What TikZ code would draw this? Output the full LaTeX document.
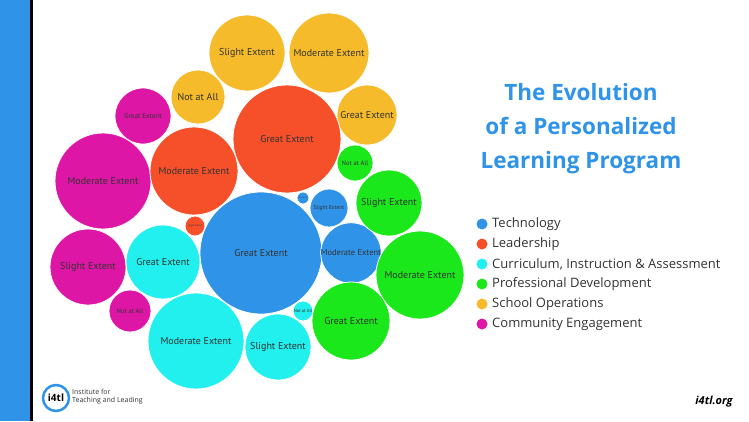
\documentclass[tikz,border=0pt]{standalone}
\usepackage{fontspec}
\setmainfont{Open Sans}
\newfontfamily\bub{PT Sans}
\definecolor{cb}{HTML}{2F93E8}
\definecolor{cr}{HTML}{F5502A}
\definecolor{cc}{HTML}{22F0EE}
\definecolor{cg}{HTML}{1BE81B}
\definecolor{cy}{HTML}{F6BB2B}
\definecolor{cm}{HTML}{DD16A5}
\definecolor{tx}{HTML}{333333}
\begin{document}
\begin{tikzpicture}[x=1pt,y=-1pt,
 bubble/.style={circle,fill=#1,draw=white,line width=0.8pt,inner sep=0pt,text=tx,font=\bub\fontsize{10}{11}\selectfont},
 dot/.style={circle,fill=#1,inner sep=0pt,minimum size=11pt},
 leg/.style={anchor=west,font=\fontsize{13}{15}\selectfont,text=tx,inner sep=0pt}]
\fill[white] (0,0) rectangle (749,421);
\useasboundingbox (0,0) rectangle (749,421);
\fill[cb] (0,0) rectangle (30,421);
\fill[black] (30,0) rectangle (33,421);
\newcommand\bb[6]{\node[bubble=#4,minimum size=#3*2pt] (#5) at (#1,#2) {#6};}
\bb{247}{53}{38}{cy}{y1}{Slight Extent}
\bb{329}{53}{40}{cy}{y2}{Moderate Extent}
\bb{198}{97}{27}{cy}{y3}{Not at All}
\bb{367}{115}{30}{cy}{y4}{Great Extent}
\bb{143}{116}{28}{cm}{m1}{\fontsize{7}{8}\selectfont Great Extent}
\bb{103}{181}{48}{cm}{m2}{Moderate Extent}
\bb{88}{267}{38}{cm}{m3}{Slight Extent}
\bb{130}{311}{21}{cm}{m4}{\fontsize{6.5}{7}\selectfont Not at All}
\bb{287}{139}{54}{cr}{r1}{Great Extent}
\bb{194}{171}{44}{cr}{r2}{Moderate Extent}
\bb{195}{226}{10}{cr}{r3}{\fontsize{2.5}{3}\selectfont Slight Extent}
\bb{261}{253}{61}{cb}{b1}{Great Extent}
\bb{303}{198}{6}{cb}{b2}{\fontsize{2}{2}\selectfont Not at All}
\bb{329}{208}{19}{cb}{b3}{\fontsize{5.5}{6}\selectfont Slight Extent}
\bb{351}{253}{29}{cb}{b4}{\fontsize{8.5}{9}\selectfont Moderate Extent}
\bb{163}{262}{37}{cc}{c1}{Great Extent}
\bb{196}{341}{48}{cc}{c2}{Moderate Extent}
\bb{278}{347}{33}{cc}{c3}{Slight Extent}
\bb{303}{311}{10}{cc}{c4}{\fontsize{4.5}{5}\selectfont Not at All}
\bb{355}{163}{18}{cg}{g1}{\fontsize{6.5}{7}\selectfont Not at All}
\bb{389}{203}{33}{cg}{g2}{Slight Extent}
\bb{420}{275}{44}{cg}{g3}{Moderate Extent}
\bb{351}{321}{39}{cg}{g4}{Great Extent}
\node[text=cb,font=\bfseries\fontsize{22.5}{34}\selectfont,align=center] (title) at (581,129) {The Evolution\\of a Personalized\\Learning Program};
\foreach \c/\t [count=\i] in {cb/Technology,cr/Leadership,cc/{Curriculum, Instruction \& Assessment},cg/Professional Development,cy/School Operations,cm/Community Engagement}{
 \node[dot=\c] (d\i) at (482,204+20*\i) {};
 \node[leg] (l\i) at (492,204+20*\i) {\t};
}
\node[circle,draw=cb,line width=2.5pt,minimum size=26pt,inner sep=0pt,font=\bfseries\fontsize{10}{10}\selectfont] (logo) at (56,398) {i4tl};
\node[anchor=west,align=left,font=\fontsize{7}{8}\selectfont,text=tx,inner sep=0pt] (inst) at (72,397) {Institute for\\Teaching and Leading};
\node[font=\bfseries\itshape\fontsize{11}{12}\selectfont,text=black] (web) at (714,402) {i4tl.org};
\end{tikzpicture}
\end{document}
